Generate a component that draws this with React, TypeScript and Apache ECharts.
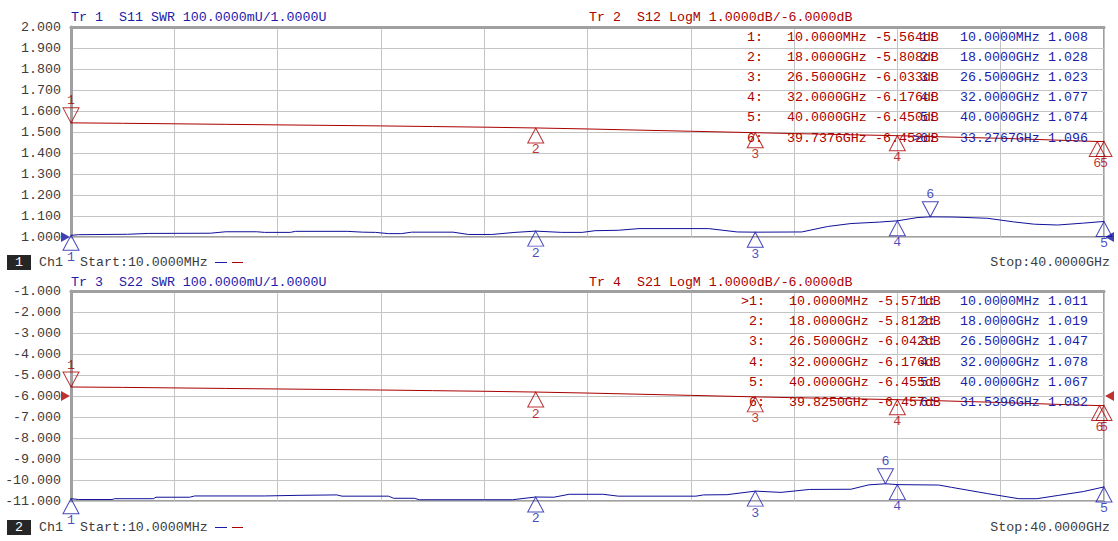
import React, { useEffect, useRef } from 'react';
import * as echarts from 'echarts';

// ---------------- data ----------------
const startLabel = 'Start:10.0000MHz';
const stopLabel = 'Stop:40.0000GHz';

// Tr1 S11 SWR (top, blue) : [GHz, SWR]
const s11Trace: number[][] = [
  [0.01, 1.008], [0.3, 1.011], [2.2, 1.013], [3.0, 1.017], [5.4, 1.018], [6.0, 1.025], [7.2, 1.025],
  [7.5, 1.022], [8.5, 1.022], [8.7, 1.027], [10.7, 1.027], [11.3, 1.023], [11.8, 1.022], [12.3, 1.016],
  [12.8, 1.016], [13.2, 1.023], [14.8, 1.023], [15.4, 1.012], [16.3, 1.012], [17.2, 1.022], [18.0, 1.028],
  [19.0, 1.022], [19.8, 1.022], [20.3, 1.030], [21.2, 1.032], [22.0, 1.040], [24.7, 1.040], [25.8, 1.024],
  [26.5, 1.023], [28.3, 1.024], [29.3, 1.050], [30.2, 1.064], [31.3, 1.071], [32.0, 1.077], [32.8, 1.093],
  [33.2767, 1.096], [34.2, 1.095], [35.5, 1.089], [36.5, 1.072], [37.3, 1.061], [38.2, 1.057], [39.2, 1.066],
  [40.0, 1.074],
];
// Tr2 S12 LogM (top, red) : [GHz, dB]
const s12Trace: number[][] = [
  [0.01, -5.564], [2, -5.585], [4, -5.61], [6, -5.635], [8, -5.66], [10, -5.685], [12, -5.71], [14, -5.74],
  [16, -5.77], [18, -5.808], [20, -5.855], [22, -5.91], [24, -5.965], [26.5, -6.033], [28, -6.075],
  [30, -6.125], [32, -6.176], [34, -6.24], [36, -6.3], [38, -6.38], [39.7376, -6.452], [40, -6.45],
];
// Tr3 S22 SWR (bottom, blue)
const s22Trace: number[][] = [
  [0.01, 1.011], [0.3, 1.007], [1.6, 1.007], [1.7, 1.011], [3.2, 1.011], [3.3, 1.018], [4.6, 1.018],
  [4.8, 1.024], [7.5, 1.024], [8.8, 1.027], [10.3, 1.029], [10.5, 1.023], [12.3, 1.023], [12.5, 1.013],
  [13.3, 1.013], [13.5, 1.006], [17.1, 1.006], [18.0, 1.019], [18.7, 1.018], [19.3, 1.032], [20.6, 1.032],
  [21.2, 1.023], [24.2, 1.023], [24.5, 1.029], [25.4, 1.030], [26.5, 1.047], [27.5, 1.041], [28.6, 1.055],
  [30.2, 1.056], [30.9, 1.077], [31.5396, 1.082], [32.0, 1.078], [33.6, 1.076], [34.1, 1.065], [35.5, 1.035],
  [36.7, 1.011], [37.4, 1.011], [38.25, 1.027], [39.2, 1.045], [40.0, 1.067],
];
// Tr4 S21 LogM (bottom, red)
const s21Trace: number[][] = [
  [0.01, -5.571], [2, -5.59], [4, -5.615], [6, -5.64], [8, -5.665], [10, -5.69], [12, -5.715], [14, -5.745],
  [16, -5.775], [18, -5.812], [20, -5.86], [22, -5.915], [24, -5.97], [26.5, -6.042], [28, -6.08],
  [30, -6.125], [32, -6.176], [34, -6.24], [36, -6.31], [38, -6.39], [39.825, -6.457], [40, -6.455],
];

// markers
const s11MarkerGHz = [0.01, 18, 26.5, 32, 40, 33.2767];
const s11MarkerVals = [1.008, 1.028, 1.023, 1.077, 1.074, 1.096];
const s12MarkerGHz = [0.01, 18, 26.5, 32, 40, 39.7376];
const s12MarkerVals = [-5.564, -5.808, -6.033, -6.176, -6.45, -6.452];
const s22MarkerGHz = [0.01, 18, 26.5, 32, 40, 31.5396];
const s22MarkerVals = [1.011, 1.019, 1.047, 1.078, 1.067, 1.082];
const s21MarkerGHz = [0.01, 18, 26.5, 32, 40, 39.825];
const s21MarkerVals = [-5.571, -5.812, -6.042, -6.176, -6.455, -6.457];

const swrRef = 1.0;
const logmRef = -6.0;

// ---------------- style ----------------
const FONT = '"Liberation Mono", "DejaVu Sans Mono", monospace';
const FS = 13.3;
const BLUE = '#1c1cab';
const TRACE_BLUE = '#10109a';
const RED = '#aa0000';
const GRAY = '#a0a0a0';
const GRID = '#c4c4c4';
const LABEL = '#3c3c3c';

const UP = 'path://M8,0L16,15L0,15Z';
const DOWN = 'path://M0,0L16,0L8,15Z';
const RIGHT = 'path://M0,0L9,5L0,10Z';
const LEFT = 'path://M9,0L0,5L9,10Z';

const fmtFreq = (g: number) => (g < 1 ? (g * 1000).toFixed(4) + 'MHz' : g.toFixed(4) + 'GHz');

function markerSeries(x: number, y: number, ghz: number[], vals: number[], down: number[], color: string) {
  return {
    type: 'scatter',
    xAxisIndex: x,
    yAxisIndex: y,
    clip: false,
    silent: true,
    symbolSize: [16, 15],
    itemStyle: { color: 'rgba(0,0,0,0)', borderColor: color, borderWidth: 1 },
    label: { show: true, formatter: '{b}', color, fontFamily: FONT, fontSize: FS, distance: 0 },
    z: 5,
    data: ghz.map((g, i) => {
      const d = down.includes(i);
      return {
        name: String(i + 1),
        value: [g, vals[i]],
        symbol: d ? DOWN : UP,
        symbolOffset: [0, d ? -7.5 : 7.5],
        label: { position: d ? 'top' : 'bottom' },
      };
    }),
  };
}

function refSeries(x: number, y: number, level: number, color: string) {
  return {
    type: 'scatter',
    xAxisIndex: x,
    yAxisIndex: y,
    clip: false,
    silent: true,
    symbolSize: [9, 10],
    itemStyle: { color },
    z: 6,
    data: [
      { value: [0.01, level], symbol: RIGHT, symbolOffset: [-5.5, 0] },
      { value: [40, level], symbol: LEFT, symbolOffset: [5.5, 0] },
    ],
  };
}

function txt(x: number, y: number, text: string, fill: string, align = 'left') {
  return {
    type: 'text',
    x,
    y,
    silent: true,
    z: 10,
    style: { text, fill, fontFamily: FONT, fontSize: FS, align, verticalAlign: 'middle' },
  };
}

function table(top: number, redX: number, freqs: number[], redVals: number[], blueFreqs: number[], blueVals: number[], activeRed: number, activeBlue: number) {
  const els: any[] = [];
  for (let i = 0; i < 6; i++) {
    const y = top + 10 + 20.2 * i;
    els.push(txt(920, y, `${i + 1}:`, BLUE));
    els.push(txt(960, y, fmtFreq(blueFreqs[i]), BLUE));
    els.push(txt(1048, y, blueVals[i].toFixed(3), BLUE));
    if (i === activeBlue) els.push(txt(912, y, '>', BLUE));
    els.push(txt(redX, y, `${i + 1}:`, RED));
    els.push(txt(redX + 40, y, fmtFreq(freqs[i]), RED));
    els.push(txt(redX + 128, y, redVals[i].toFixed(3) + 'dB', RED));
    if (i === activeRed) els.push(txt(redX - 8, y, '>', RED));
  }
  return els;
}

function statusBar(y: number, ch: string) {
  return [
    { type: 'rect', silent: true, shape: { x: 7, y: y - 7.5, width: 24, height: 15 }, style: { fill: '#262626' } },
    txt(19, y, ch, '#ffffff', 'center'),
    txt(39, y, 'Ch1', LABEL),
    txt(80, y, startLabel, LABEL),
    { type: 'line', silent: true, shape: { x1: 215, y1: y, x2: 227, y2: y }, style: { stroke: BLUE, lineWidth: 1 } },
    { type: 'line', silent: true, shape: { x1: 232, y1: y, x2: 243, y2: y }, style: { stroke: RED, lineWidth: 1 } },
    txt(1110, y, stopLabel, LABEL, 'right'),
  ];
}

const gridLine = { show: true, lineStyle: { color: GRID, width: 1 } };
const frameX = {
  type: 'value', min: 0, max: 10, interval: 1,
  axisLabel: { show: false }, axisTick: { show: false },
  axisLine: { show: true, onZero: false, lineStyle: { color: GRAY, width: 3 } },
  splitLine: gridLine,
};
const dataX = { type: 'value', min: 0.01, max: 40, show: false };
const labelY = (min: number, max: number, interval: number) => ({
  type: 'value', min, max, interval,
  axisLabel: { formatter: (v: number) => v.toFixed(3), color: LABEL, fontFamily: FONT, fontSize: FS, margin: 10 },
  axisTick: { show: false },
  axisLine: { show: true, onZero: false, lineStyle: { color: GRAY, width: 3 } },
  splitLine: gridLine,
});
const hiddenY = (min: number, max: number) => ({ type: 'value', min, max, show: false, splitLine: { show: false } });

export default function App() {
  const ref = useRef<HTMLDivElement>(null);
  useEffect(() => {
    const chart = echarts.init(ref.current!, undefined, { renderer: 'svg' });
    const line = (x: number, y: number, data: number[][], color: string) => ({
      type: 'line', xAxisIndex: x, yAxisIndex: y, data, symbol: 'none', silent: true, clip: false,
      lineStyle: { color, width: 1 }, z: 4,
    });
    chart.setOption({
      animation: false,
      backgroundColor: '#ffffff',
      grid: [
        { left: 71, top: 27, width: 1033, height: 210, show: true, borderColor: GRAY, borderWidth: 2, backgroundColor: '#fff' },
        { left: 71, top: 291, width: 1033, height: 210, show: true, borderColor: GRAY, borderWidth: 2, backgroundColor: '#fff' },
      ],
      xAxis: [
        { ...dataX, gridIndex: 0 },
        { ...frameX, gridIndex: 0 },
        { ...dataX, gridIndex: 1 },
        { ...frameX, gridIndex: 1 },
      ],
      yAxis: [
        { ...labelY(1, 2, 0.1), gridIndex: 0 },
        { ...hiddenY(-11, -1), gridIndex: 0 },
        { ...labelY(-11, -1, 1), gridIndex: 1 },
        { ...hiddenY(1, 2), gridIndex: 1 },
      ],
      series: [
        line(0, 0, s11Trace, TRACE_BLUE),
        line(0, 1, s12Trace, RED),
        line(2, 3, s22Trace, TRACE_BLUE),
        line(2, 2, s21Trace, RED),
        markerSeries(0, 0, s11MarkerGHz, s11MarkerVals, [5], BLUE),
        markerSeries(0, 1, s12MarkerGHz, s12MarkerVals, [0], RED),
        markerSeries(2, 3, s22MarkerGHz, s22MarkerVals, [5], BLUE),
        markerSeries(2, 2, s21MarkerGHz, s21MarkerVals, [0], RED),
        refSeries(0, 0, swrRef, TRACE_BLUE),
        refSeries(2, 2, logmRef, RED),
      ],
      graphic: [
        txt(71, 17.5, 'Tr 1', BLUE),
        txt(119, 17.5, 'S11 SWR 100.0000mU/1.0000U', BLUE),
        txt(589, 17.5, 'Tr 2', RED),
        txt(637, 17.5, 'S12 LogM 1.0000dB/-6.0000dB', RED),
        txt(71, 282.5, 'Tr 3', BLUE),
        txt(119, 282.5, 'S22 SWR 100.0000mU/1.0000U', BLUE),
        txt(589, 282.5, 'Tr 4', RED),
        txt(637, 282.5, 'S21 LogM 1.0000dB/-6.0000dB', RED),
        ...table(27, 747, s12MarkerGHz, s12MarkerVals, s11MarkerGHz, s11MarkerVals, -1, 5),
        ...table(291.5, 749, s21MarkerGHz, s21MarkerVals, s22MarkerGHz, s22MarkerVals, 0, -1),
        ...statusBar(262.5, '1'),
        ...statusBar(527.5, '2'),
      ],
    });
    return () => chart.dispose();
  }, []);
  return <div ref={ref} style={{ position: 'fixed', left: 0, top: 0, width: 1118, height: 541, background: '#fff' }} />;
}
